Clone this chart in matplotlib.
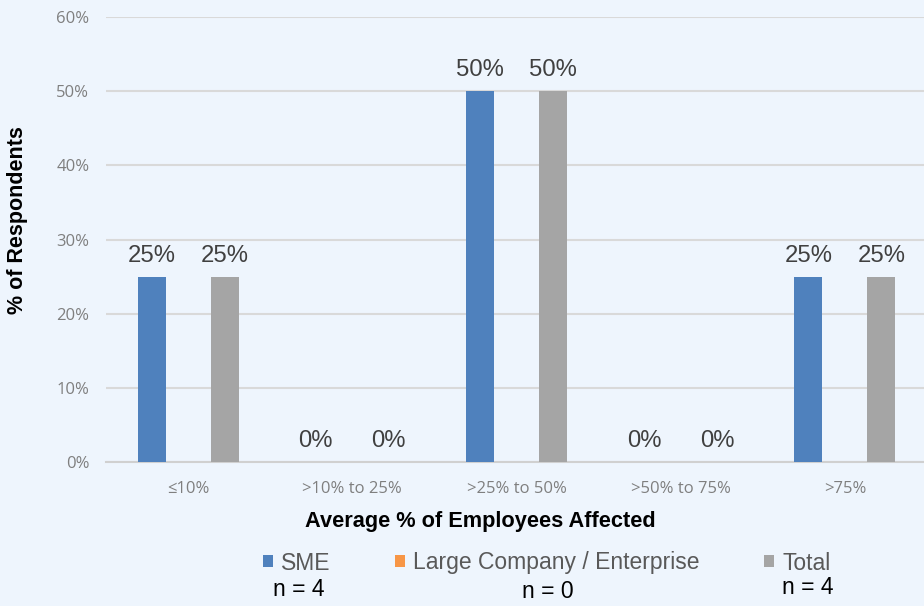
import matplotlib
matplotlib.use("Agg")
import matplotlib.pyplot as plt
import numpy as np

categories = ["≤10%", ">10% to 25%", ">25% to 50%", ">50% to 75%", ">75%"]
series_names = ["SME", "Large Company / Enterprise", "Total"]
sme = [25, 0, 50, 0, 25]
large = [0, 0, 0, 0, 0]
total = [25, 0, 50, 0, 25]
n_labels = ["n = 4", "n = 0", "n = 4"]
yticks = [0, 10, 20, 30, 40, 50, 60]

colors = ["#4F81BD", "#F79646", "#A5A5A5"]
bg = "#EEF5FD"

W, H = 924, 606
fig = plt.figure(figsize=(W / 100, H / 100), dpi=100, facecolor=bg)
ax = fig.add_axes([106 / W, (H - 462) / H, 821 / W, 445 / H])
ax.set_facecolor(bg)

x = np.arange(len(categories))
offsets = [-0.222, 0.0, 0.222]
width = 0.17
all_series = [sme, large, total]
handles = []
for vals, off, col, name in zip(all_series, offsets, colors, series_names):
    b = ax.bar(x + off, vals, width=width, color=col, label=name, zorder=3)
    handles.append(b)

# value labels for SME and Total
for vals, off in [(sme, offsets[0]), (total, offsets[2])]:
    for xi, v in zip(x, vals):
        ax.annotate(f"{v}%", (xi + off, v), xytext=(0, 15), textcoords="offset points",
                    ha="center", va="center", fontsize=17.2, color="#404040",
                    family="Liberation Sans", zorder=4)

ax.set_xlim(-0.5, len(categories) - 0.5)
ax.set_ylim(0, 60)
ax.set_yticks(yticks)
ax.set_yticklabels([f"{t}%" for t in yticks], fontsize=12, color="#7F7F7F", family="Open Sans")
ax.set_xticks(x)
ax.set_xticklabels(categories, fontsize=12, color="#7F7F7F", family="Open Sans")
ax.tick_params(axis="y", length=0, pad=12)
ax.tick_params(axis="x", length=0, pad=14)
ax.yaxis.grid(True, color="#D9D9D9", linewidth=1.5, zorder=0)
ax.set_axisbelow(True)
for s in ["top", "right", "left"]:
    ax.spines[s].set_visible(False)
ax.spines["bottom"].set_color("#D0D0D0")
ax.spines["bottom"].set_linewidth(1.5)
ax.spines["bottom"].set_zorder(2)

fig.text(18 / W, 1 - 220 / H, "% of Respondents", rotation=90, ha="center", va="center",
         fontsize=15.5, fontweight="bold", family="Liberation Sans", color="black")
fig.text(480 / W, 1 - 522 / H, "Average % of Employees Affected", ha="center", va="center",
         fontsize=15.7, fontweight="bold", family="Liberation Sans", color="black")

leg = fig.legend(handles=handles, labels=series_names, loc="center",
                 bbox_to_anchor=(546.5 / W, 1 - 563 / H), ncol=3, frameon=False,
                 handlelength=0.45, handleheight=0.45, handletextpad=0.35,
                 columnspacing=2.8, prop={"family": "Liberation Sans", "size": 16.5})
for t in leg.get_texts():
    t.set_color("#595959")

for (px, py), lab in zip([(299, 590), (548, 591), (808, 588)], n_labels):
    fig.text(px / W, 1 - py / H, lab, ha="center", va="center", fontsize=16.5,
             family="Liberation Sans", color="black")

fig.savefig("out.png", dpi=100, facecolor=bg)
